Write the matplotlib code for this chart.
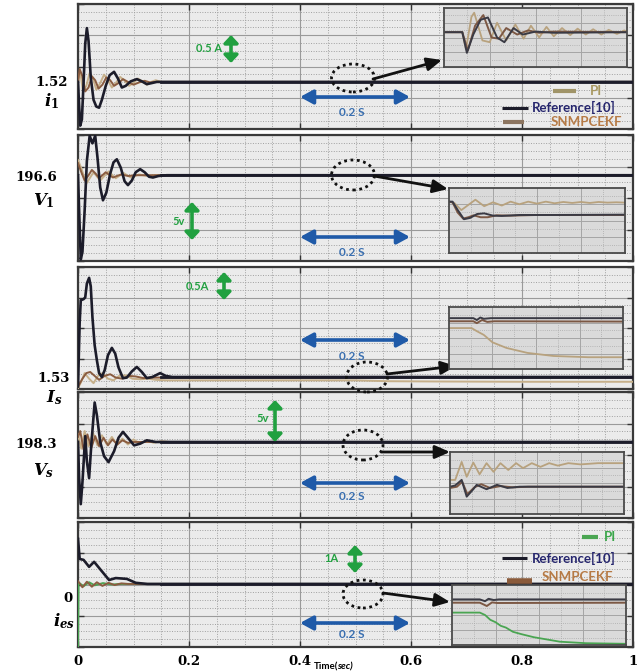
import numpy as np
import matplotlib
matplotlib.use("Agg")
import matplotlib.pyplot as plt
from matplotlib.patches import FancyArrowPatch, Ellipse
from matplotlib.lines import Line2D

plt.rcParams['mathtext.fontset'] = 'custom'
plt.rcParams['mathtext.it'] = 'DejaVu Serif:italic:bold'
plt.rcParams['mathtext.rm'] = 'DejaVu Serif:bold'
plt.rcParams['mathtext.bf'] = 'DejaVu Serif:bold'

# ---------------- data ----------------
time_ticks = [0, 0.2, 0.4, 0.6, 0.8, 1.0]
time_tick_labels = ['0', '0.2', '0.4', '0.6', '0.8', '1']
series_names = ['PI', 'Reference[10]', 'SNMPCEKF']

# i1 (A)
i1_steady = 1.52
i1_ylim = (0.68, 2.91)
i1_t_ref = [0, 0.002, 0.004, 0.007, 0.010, 0.013, 0.016, 0.019, 0.023, 0.028, 0.033, 0.038, 0.043,
            0.050, 0.057, 0.065, 0.072, 0.079, 0.086, 0.095, 0.106, 0.115, 0.124, 0.133, 0.142, 1.0]
i1_ref = [1.52, 1.10, 0.74, 0.85, 1.50, 2.20, 2.48, 2.25, 1.60, 1.20, 1.08, 1.06, 1.20,
          1.45, 1.64, 1.70, 1.58, 1.42, 1.45, 1.53, 1.57, 1.53, 1.48, 1.50, 1.52, 1.52]
i1_t_snm = [0, 0.003, 0.008, 0.013, 0.019, 0.025, 0.031, 0.037, 0.044, 0.051, 0.058, 0.065, 0.073,
            0.081, 0.090, 0.100, 0.110, 0.120, 0.130, 0.140, 1.0]
i1_snm = [1.52, 1.75, 1.62, 1.35, 1.42, 1.62, 1.55, 1.40, 1.47, 1.60, 1.55, 1.45, 1.50,
          1.57, 1.52, 1.47, 1.51, 1.54, 1.51, 1.52, 1.52]
i1_t_pi = [0, 0.004, 0.009, 0.015, 0.021, 0.027, 0.033, 0.040, 0.047, 0.054, 0.061, 0.068, 0.076,
           0.084, 0.092, 0.100, 0.108, 0.116, 0.124, 0.132, 0.140, 0.150, 1.0]
i1_pi = [1.52, 1.70, 1.35, 1.45, 1.68, 1.58, 1.38, 1.50, 1.65, 1.55, 1.42, 1.50, 1.61,
         1.54, 1.45, 1.50, 1.58, 1.53, 1.47, 1.52, 1.55, 1.52, 1.52]

# V1 (V)
v1_steady = 196.6
v1_ylim = (185.3, 201.9)
v1_t_ref = [0, 0.002, 0.005, 0.008, 0.012, 0.016, 0.021, 0.026, 0.031, 0.035, 0.040, 0.045, 0.051,
            0.058, 0.064, 0.070, 0.077, 0.084, 0.090, 0.097, 0.104, 0.112, 0.120, 0.128, 0.135,
            0.145, 0.160, 1.0]
v1_ref = [196.6, 192.0, 185.5, 186.5, 192.0, 198.5, 201.8, 200.8, 201.8, 199.0, 195.0, 193.3, 194.3,
          196.8, 198.3, 198.7, 197.6, 195.8, 195.3, 195.9, 197.0, 197.4, 197.0, 196.4, 196.3,
          196.5, 196.6, 196.6]
v1_t_snm = [0, 0.006, 0.012, 0.019, 0.025, 0.032, 0.038, 0.044, 0.050, 0.057, 0.063, 0.070, 0.078,
            0.090, 0.105, 1.0]
v1_snm = [198.2, 197.0, 195.9, 196.6, 197.3, 196.8, 196.2, 196.6, 197.0, 196.6, 196.3, 196.5, 196.7,
          196.5, 196.6, 196.6]
v1_t_pi = [0, 0.006, 0.015, 0.028, 0.040, 0.055, 0.068, 0.082, 0.095, 0.110, 0.125, 0.140, 1.0]
v1_pi = [198.6, 197.5, 195.5, 197.0, 195.9, 197.1, 196.2, 196.9, 196.3, 196.7, 196.5, 196.6, 196.6]

# Is (A)
is_steady = 1.53
is_ylim = (1.316, 3.494)
is_t_ref = [0, 0.003, 0.005, 0.010, 0.013, 0.016, 0.020, 0.023, 0.026, 0.030, 0.034, 0.038, 0.043,
            0.048, 0.054, 0.061, 0.067, 0.073, 0.081, 0.088, 0.097, 0.106, 0.115, 0.124, 0.134,
            0.148, 0.158, 0.170, 1.0]
is_ref = [1.36, 2.50, 2.90, 2.92, 2.95, 3.20, 3.30, 3.15, 2.60, 2.10, 1.83, 1.60, 1.53,
          1.65, 1.92, 2.05, 1.95, 1.70, 1.51, 1.52, 1.63, 1.71, 1.62, 1.51, 1.53,
          1.60, 1.55, 1.53, 1.53]
is_t_snm = [0, 0.008, 0.015, 0.022, 0.030, 0.038, 0.048, 0.058, 0.068, 0.080, 0.092, 0.104, 0.118,
            0.130, 1.0]
is_snm = [1.36, 1.50, 1.60, 1.62, 1.55, 1.48, 1.55, 1.58, 1.52, 1.50, 1.55, 1.54, 1.51, 1.52, 1.52]
is_t_pi = [0, 0.006, 0.012, 0.020, 0.028, 0.036, 0.044, 0.054, 0.064, 0.074, 0.086, 0.098, 0.112,
           0.126, 0.140, 0.160, 0.500, 0.560, 0.650, 0.800, 1.0]
is_pi = [1.33, 1.45, 1.60, 1.50, 1.42, 1.55, 1.60, 1.50, 1.47, 1.55, 1.56, 1.50, 1.49,
         1.50, 1.48, 1.47, 1.47, 1.455, 1.45, 1.445, 1.445]

# Vs (V)
vs_steady = 198.3
vs_ylim = (189.25, 204.25)
vs_t_ref = [0, 0.002, 0.005, 0.008, 0.013, 0.016, 0.020, 0.024, 0.030, 0.034, 0.040, 0.047, 0.055,
            0.065, 0.073, 0.081, 0.090, 0.101, 0.112, 0.124, 0.140, 1.0]
vs_ref = [198.3, 194.0, 190.9, 193.5, 199.0, 196.0, 194.0, 198.0, 203.0, 201.5, 198.3, 196.6, 195.9,
          197.2, 198.8, 199.5, 198.8, 197.9, 198.1, 198.5, 198.3, 198.3]
vs_t_snm = [0, 0.004, 0.010, 0.017, 0.024, 0.031, 0.038, 0.046, 0.054, 0.062, 0.071, 0.080, 0.090,
            0.100, 1.0]
vs_snm = [198.9, 199.6, 197.4, 199.2, 197.6, 199.0, 197.8, 198.8, 197.9, 198.6, 198.0, 198.5, 198.2,
          198.3, 198.3]
vs_t_pi = [0, 0.006, 0.012, 0.019, 0.027, 0.035, 0.043, 0.052, 0.061, 0.070, 0.080, 0.090, 0.100,
           0.112, 0.124, 0.136, 0.150, 0.165, 1.0]
vs_pi = [199.2, 197.5, 199.6, 197.8, 199.4, 197.9, 199.1, 198.0, 198.9, 198.0, 198.7, 198.0, 198.6,
         198.1, 198.5, 198.2, 198.4, 198.3, 198.3]

# ies (A)
ies_steady = 0.0
ies_ylim = (-2.25, 2.21)
ies_t_ref = [0, 0.003, 0.010, 0.020, 0.029, 0.041, 0.056, 0.068, 0.088, 0.104, 0.125, 1.0]
ies_ref = [1.61, 0.89, 0.86, 0.61, 0.79, 0.50, 0.14, 0.21, 0.18, 0.04, 0.0, 0.0]
ies_t_snm = [0, 0.008, 0.016, 0.025, 0.034, 0.044, 0.055, 0.066, 0.078, 0.090, 1.0]
ies_snm = [0.10, -0.12, 0.08, -0.10, 0.06, -0.07, 0.04, -0.04, 0.02, 0.0, 0.0]
ies_t_pi = [0, 0.001, 0.010, 0.020, 0.030, 0.045, 0.060, 0.080, 1.0]
ies_pi = [-2.3, 0.05, -0.08, 0.06, -0.05, 0.03, -0.02, 0.0, 0.0]

# zoomed views around t = 0.5 s (normalised window time / normalised level)
z1_u_ref = [0, 0.10, 0.125, 0.16, 0.20, 0.24, 0.29, 0.33, 0.38, 0.43, 0.50, 0.60, 1.0]
z1_ref = [0.59, 0.59, 0.24, 0.55, 0.80, 0.84, 0.50, 0.42, 0.66, 0.55, 0.60, 0.58, 0.59]
z1_u_snm = [0, 0.10, 0.13, 0.17, 0.215, 0.26, 0.30, 0.34, 0.40, 0.46, 0.52, 0.60, 1.0]
z1_snm = [0.59, 0.59, 0.28, 0.70, 0.88, 0.50, 0.48, 0.66, 0.55, 0.62, 0.58, 0.60, 0.59]
z1_u_pi = [0, 0.10, 0.12, 0.15, 0.165, 0.21, 0.25, 0.29, 0.34, 0.39, 0.435, 0.475, 0.52, 0.56, 0.60,
           0.645, 0.69, 0.73, 0.775, 0.815, 0.86, 0.90, 0.945, 0.985, 1.0]
z1_pi = [0.59, 0.59, 0.30, 0.85, 0.92, 0.45, 0.42, 0.75, 0.45, 0.72, 0.48, 0.70, 0.50, 0.68, 0.52,
         0.66, 0.54, 0.65, 0.55, 0.64, 0.55, 0.63, 0.56, 0.62, 0.60]

z2_u_ref = [0, 0.02, 0.05, 0.085, 0.12, 0.16, 0.20, 0.25, 0.30, 0.40, 0.60, 1.0]
z2_ref = [0.79, 0.79, 0.66, 0.52, 0.54, 0.60, 0.61, 0.575, 0.57, 0.585, 0.585, 0.59]
z2_u_snm = [0, 0.02, 0.05, 0.08, 0.11, 0.14, 0.18, 0.22, 0.27, 0.35, 0.50, 1.0]
z2_snm = [0.79, 0.78, 0.62, 0.53, 0.55, 0.58, 0.55, 0.55, 0.58, 0.575, 0.585, 0.585]
z2_u_pi = [0, 0.03, 0.07, 0.11, 0.15, 0.20, 0.25, 0.30, 0.35, 0.40, 0.45, 0.50, 0.55, 0.60, 0.65,
           0.70, 0.75, 0.80, 0.85, 0.90, 0.95, 1.0]
z2_pi = [0.79, 0.77, 0.66, 0.74, 0.82, 0.72, 0.78, 0.73, 0.79, 0.75, 0.79, 0.76, 0.79, 0.765, 0.785,
         0.77, 0.785, 0.77, 0.785, 0.775, 0.78, 0.775]

z3_u_ref = [0, 0.14, 0.16, 0.18, 0.20, 0.24, 1.0]
z3_ref = [0.82, 0.82, 0.79, 0.83, 0.81, 0.82, 0.82]
z3_u_snm = [0, 0.14, 0.16, 0.19, 0.22, 0.26, 1.0]
z3_snm = [0.77, 0.77, 0.74, 0.79, 0.76, 0.77, 0.765]
z3_u_pi = [0, 0.13, 0.16, 0.20, 0.25, 0.33, 0.45, 0.60, 0.80, 1.0]
z3_pi = [0.66, 0.66, 0.61, 0.55, 0.43, 0.34, 0.26, 0.21, 0.19, 0.19]

z4_u_ref = [0, 0.03, 0.067, 0.096, 0.134, 0.153, 0.21, 0.27, 0.33, 0.40, 1.0]
z4_ref = [0.44, 0.46, 0.55, 0.28, 0.40, 0.47, 0.40, 0.47, 0.42, 0.44, 0.44]
z4_u_snm = [0, 0.04, 0.07, 0.10, 0.14, 0.18, 0.23, 0.29, 0.36, 0.45, 1.0]
z4_snm = [0.42, 0.44, 0.52, 0.32, 0.43, 0.48, 0.42, 0.45, 0.43, 0.44, 0.44]
z4_u_pi = [0, 0.03, 0.067, 0.096, 0.134, 0.17, 0.21, 0.25, 0.29, 0.335, 0.38, 0.42, 0.47, 0.52,
           0.57, 0.62, 0.68, 0.75, 0.85, 1.0]
z4_pi = [0.55, 0.55, 0.84, 0.60, 0.83, 0.64, 0.82, 0.68, 0.82, 0.71, 0.82, 0.74, 0.82, 0.76,
         0.82, 0.78, 0.82, 0.80, 0.82, 0.82]

z5_u_ref = [0, 0.16, 0.19, 0.21, 0.24, 0.27, 1.0]
z5_ref = [0.76, 0.76, 0.73, 0.77, 0.75, 0.76, 0.76]
z5_u_snm = [0, 0.16, 0.20, 0.23, 0.26, 1.0]
z5_snm = [0.705, 0.705, 0.65, 0.71, 0.70, 0.705]
z5_u_pi = [0, 0.16, 0.19, 0.22, 0.25, 0.28, 0.31, 0.35, 0.40, 0.47, 0.55, 0.62, 0.77, 1.0]
z5_pi = [0.54, 0.54, 0.50, 0.42, 0.38, 0.32, 0.29, 0.22, 0.18, 0.13, 0.09, 0.055, 0.03, 0.02]

# ---------------- styling ----------------
C_REF = '#1c1c2a'
C_SNM = '#8a5c40'
C_PI = '#c6b08a'
C_PI_GREEN = '#4aa552'
C_GREEN = '#21a040'
C_BLUE = '#1f5aa8'
TXT_REF = '#26266e'
TXT_SNM = '#b67a45'
TXT_PI = '#a89860'
ANN_FONT = ['Lato', 'DejaVu Sans']

W, H = 637, 672
fig = plt.figure(figsize=(W / 100, H / 100), dpi=100)
fig.patch.set_facecolor('white')


def fx(x):
    return x / W


def fy(y):
    return 1 - y / H


def rect(x0, y0, x1, y1):
    return [fx(x0), fy(y1), (x1 - x0) / W, (y1 - y0) / H]


def style_main(ax, ylim):
    ax.set_facecolor('#ebebeb')
    ax.set_xlim(0, 1)
    ax.set_ylim(*ylim)
    ax.set_xticks(time_ticks)
    ax.set_xticks(np.arange(0, 1.0001, 0.05), minor=True)
    ax.set_yticks(np.linspace(ylim[0], ylim[1], 5))
    ax.set_yticks(np.linspace(ylim[0], ylim[1], 17), minor=True)
    ax.grid(which='major', color='#9a9a9a', lw=0.8, ls='-')
    ax.grid(which='minor', color='#a0a0a0', lw=0.7, ls=(0, (1, 1.6)))
    ax.set_axisbelow(True)
    ax.tick_params(which='major', direction='in', length=4, width=1, top=True, right=True,
                   labelleft=False, labelbottom=False, color='#333333')
    ax.tick_params(which='minor', length=0)
    for s in ax.spines.values():
        s.set_color('#3a3a3a')
        s.set_linewidth(1.6)


def style_zoom(ax):
    ax.set_facecolor('#dadada')
    ax.set_xlim(0, 1)
    ax.set_ylim(0, 1)
    ax.set_xticks([0.25, 0.5, 0.75])
    ax.set_xticks(np.arange(0.125, 1, 0.125), minor=True)
    ax.set_yticks([0.25, 0.5, 0.75])
    ax.set_yticks(np.arange(0.125, 1, 0.125), minor=True)
    ax.grid(which='major', color='#a5a5a5', lw=0.7, ls='-')
    ax.grid(which='minor', color='#aaaaaa', lw=0.6, ls=(0, (1, 1.6)))
    ax.set_axisbelow(True)
    ax.tick_params(which='both', length=0, labelleft=False, labelbottom=False)
    for s in ax.spines.values():
        s.set_color('#4a4a4a')
        s.set_linewidth(1.3)


def arrow(p0, p1, style, ms, lw, color):
    fig.add_artist(FancyArrowPatch((fx(p0[0]), fy(p0[1])), (fx(p1[0]), fy(p1[1])),
                                   transform=fig.transFigure, arrowstyle=style, mutation_scale=ms,
                                   lw=lw, color=color, shrinkA=0, shrinkB=0, zorder=6))


panels = [
    dict(box=(78, 4, 633, 129), ylim=i1_ylim, steady=i1_steady,
         ref=(i1_t_ref, i1_ref), snm=(i1_t_snm, i1_snm), pi=(i1_t_pi, i1_pi), pi_color=C_PI,
         value_lbl='1.52', value_pos=(68, 82), sym=r'$i_1$', sym_pos=(52, 101),
         green=(231, 35, 63), green_txt='0.5 A', green_txt_pos=(222, 49),
         blue_y=97, blue_txt_y=112, ell=(353, 78, 43, 28), arrow=((373, 79), (442, 60)),
         zoom_box=(444, 8, 627, 67),
         zoom=((z1_u_ref, z1_ref), (z1_u_snm, z1_snm), (z1_u_pi, z1_pi))),
    dict(box=(78, 135, 633, 261), ylim=v1_ylim, steady=v1_steady,
         ref=(v1_t_ref, v1_ref), snm=(v1_t_snm, v1_snm), pi=(v1_t_pi, v1_pi), pi_color=C_PI,
         value_lbl='196.6', value_pos=(57, 177), sym=r'$V_1$', sym_pos=(44, 201),
         green=(192, 202, 240), green_txt='5v', green_txt_pos=(185, 222),
         blue_y=237, blue_txt_y=252, ell=(353, 175, 43, 30), arrow=((374, 176), (448, 189)),
         zoom_box=(449, 188, 625, 253),
         zoom=((z2_u_ref, z2_ref), (z2_u_snm, z2_snm), (z2_u_pi, z2_pi))),
    dict(box=(78, 267, 633, 389), ylim=is_ylim, steady=is_steady,
         ref=(is_t_ref, is_ref), snm=(is_t_snm, is_snm), pi=(is_t_pi, is_pi), pi_color=C_PI,
         value_lbl='1.53', value_pos=(70, 378), sym=r'$I_s$', sym_pos=(54, 398),
         green=(224, 272, 300), green_txt='0.5A', green_txt_pos=(209, 286),
         blue_y=340, blue_txt_y=356, ell=(367, 377, 41, 30), arrow=((387, 374), (456, 366)),
         zoom_box=(449, 307, 623, 369),
         zoom=((z3_u_ref, z3_ref), (z3_u_snm, z3_snm), (z3_u_pi, z3_pi))),
    dict(box=(78, 392, 633, 518), ylim=vs_ylim, steady=vs_steady,
         ref=(vs_t_ref, vs_ref), snm=(vs_t_snm, vs_snm), pi=(vs_t_pi, vs_pi), pi_color=C_PI,
         value_lbl='198.3', value_pos=(57, 445), sym=r'$V_s$', sym_pos=(44, 471),
         green=(275, 400, 442), green_txt='5v', green_txt_pos=(269, 418),
         blue_y=483, blue_txt_y=497, ell=(363, 445, 40, 30), arrow=((382, 452), (450, 452)),
         zoom_box=(450, 452, 624, 514),
         zoom=((z4_u_ref, z4_ref), (z4_u_snm, z4_snm), (z4_u_pi, z4_pi))),
    dict(box=(78, 522, 633, 647), ylim=ies_ylim, steady=ies_steady,
         ref=(ies_t_ref, ies_ref), snm=(ies_t_snm, ies_snm), pi=(ies_t_pi, ies_pi), pi_color=C_PI_GREEN,
         value_lbl='0', value_pos=(72, 598), sym=r'$i_{es}$', sym_pos=(64, 621),
         green=(355, 545, 573), green_txt='1A', green_txt_pos=(339, 559),
         blue_y=623, blue_txt_y=635, ell=(363, 594, 40, 28), arrow=((383, 593), (450, 602)),
         zoom_box=(452, 585, 626, 645),
         zoom=((z5_u_ref, z5_ref), (z5_u_snm, z5_snm), (z5_u_pi, z5_pi))),
]

axes = []
for k, p in enumerate(panels):
    ax = fig.add_axes(rect(*p['box']))
    style_main(ax, p['ylim'])
    ax.plot(*p['pi'], color=p['pi_color'], lw=1.4, zorder=3)
    ax.plot(*p['snm'], color=C_SNM, lw=1.4, zorder=4)
    ax.plot(*p['ref'], color=C_REF, lw=1.9, zorder=5)
    ax.axhline(p['steady'], xmin=0.15, xmax=1.0, color=C_REF, lw=2.0, zorder=5)
    axes.append(ax)

    # value and signal name on the left
    fig.text(fx(p['value_pos'][0]), fy(p['value_pos'][1]), p['value_lbl'], ha='right', va='center',
             fontsize=9.5, fontweight='bold', family='DejaVu Serif')
    fig.text(fx(p['sym_pos'][0]), fy(p['sym_pos'][1]), p['sym'], ha='center', va='center', fontsize=12)

    # green scale arrow
    gx, gy0, gy1 = p['green']
    arrow((gx, gy0), (gx, gy1), '<|-|>,head_length=0.32,head_width=0.3', 14, 2.6, C_GREEN)
    fig.text(fx(p['green_txt_pos'][0]), fy(p['green_txt_pos'][1]), p['green_txt'], ha='right', va='center',
             fontsize=8, fontweight='bold', color=C_GREEN, family=ANN_FONT, zorder=6)

    # blue 0.2 s span
    arrow((300, p['blue_y']), (410, p['blue_y']), '<|-|>,head_length=0.55,head_width=0.3', 14, 2.6, C_BLUE)
    fig.text(fx(352), fy(p['blue_txt_y']), '0.2 S', ha='center', va='center', fontsize=8.5,
             fontweight='bold', color='#3a6fb0', family=ANN_FONT, zorder=6)

    # dotted ellipse and pointer to zoomed view
    ex, ey, ew, eh = p['ell']
    fig.add_artist(Ellipse((fx(ex), fy(ey)), ew / W, eh / H, transform=fig.transFigure, fill=False,
                           ec='#111111', lw=2.0, ls=(0, (1, 1.3)), zorder=6))
    arrow(p['arrow'][0], p['arrow'][1], '-|>,head_length=0.5,head_width=0.22', 18, 2.0, '#111111')

    # zoomed view
    zax = fig.add_axes(rect(*p['zoom_box']))
    zax.set_zorder(7)
    style_zoom(zax)
    (ur, vr), (us, vs_), (up, vp) = p['zoom']
    zc = C_PI_GREEN if k == 4 else '#b8a27e'
    zax.plot(up, vp, color=zc, lw=1.3)
    zax.plot(us, vs_, color='#7c5844', lw=1.4)
    zax.plot(ur, vr, color='#3a3a44', lw=1.4)

# time axis labels on the bottom panel
axes[-1].tick_params(which='major', labelbottom=True, pad=6)
axes[-1].set_xticklabels(time_tick_labels, fontsize=9.5, fontweight='bold', family='DejaVu Serif')
fig.text(fx(314), fy(667), 'Time(', ha='left', va='center', fontsize=7, fontweight='bold', family=ANN_FONT)
fig.text(fx(337), fy(667), 'sec)', ha='left', va='center', fontsize=7, fontweight='bold',
         style='italic', family=ANN_FONT)


def legend_line(x0, x1, y, color, lw):
    fig.add_artist(Line2D([fx(x0), fx(x1)], [fy(y), fy(y)], transform=fig.transFigure,
                          color=color, lw=lw, solid_capstyle='butt', zorder=6))


def legend_text(x, y, s, color, ha='left'):
    fig.text(fx(x), fy(y), s, ha=ha, va='center', fontsize=9.5, fontweight='bold', color=color,
             family=ANN_FONT, zorder=6)


# legend of the first panel
legend_line(553, 576, 91, '#a09468', 3.0)
legend_text(590, 91, series_names[0], TXT_PI)
legend_line(502, 528, 108, C_REF, 2.2)
legend_text(532, 107, series_names[1], TXT_REF)
legend_line(503, 524, 122, '#8c7560', 3.0)
legend_text(551, 122, series_names[2], TXT_SNM)

# legend of the last panel
legend_line(582, 598, 537, C_PI_GREEN, 3.0)
legend_text(604, 537, series_names[0], '#3aa64a')
legend_line(502, 527, 558, C_REF, 2.2)
legend_text(532, 558, series_names[1], TXT_REF)
legend_line(507, 532, 581, '#8a5a3a', 4.0)
legend_text(542, 577, series_names[2], TXT_SNM)

fig.savefig('out.png', dpi=100)
